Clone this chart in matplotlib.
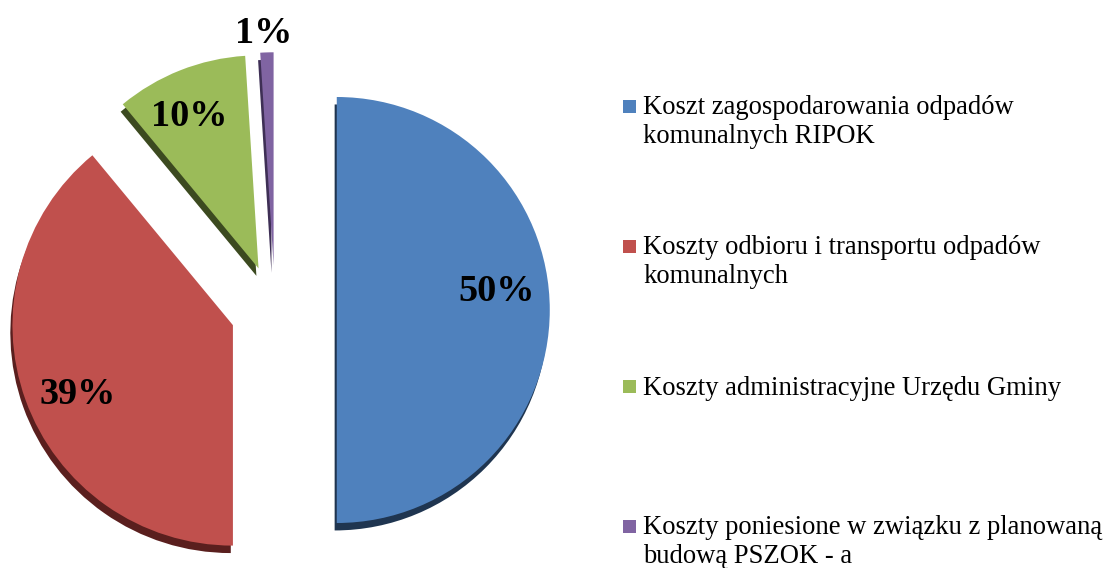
import numpy as np
import matplotlib
matplotlib.use("Agg")
import matplotlib.pyplot as plt
from matplotlib.patches import Rectangle

# dane
labels = ["Koszt zagospodarowania odpadów\nkomunalnych RIPOK",
          "Koszty odbioru i transportu odpadów\nkomunalnych",
          "Koszty administracyjne Urzędu Gminy",
          "Koszty poniesione w związku z planowaną\nbudową PSZOK - a"]
values = [50, 39, 10, 1]
pct_text = ["50%", "39%", "10%", "1%"]

colors = ["#4F81BD", "#C0504D", "#9BBB59", "#8064A2"]
dark = ["#1F3550", "#5A1F1E", "#3C4A20", "#3E2F55"]
explode = [0.29, 0.21, 0.21, 0.21]
radii = [1.0, 1.035, 1.0, 1.0]
# polozenie etykiet procentowych (promien, przesuniecie kata)
lab_r = [0.76, 0.79, 0.80, 1.11]
lab_da = [8, 3, 2.5, 0.5]

W, H = 1105, 568
R = 213.0          # promien kola w pikselach
cx, cy = 275, 310  # srodek kola (piksele od gory)

fig = plt.figure(figsize=(W / 100, H / 100), dpi=100)
ax = fig.add_axes([0, 0, 600 / W, 1])

# "boki" 3D - ciemniejsza kopia przesunieta w dol
shadow, _ = ax.pie(values, colors=dark, startangle=90, counterclock=False,
                   explode=explode, radius=1, center=(-0.01, -0.035),
                   wedgeprops=dict(linewidth=0))
wedges, _ = ax.pie(values, colors=colors, startangle=90, counterclock=False,
                   explode=explode, radius=1, center=(0, 0),
                   wedgeprops=dict(linewidth=0))
for s, w, r in zip(shadow, wedges, radii):
    s.set_radius(r)
    w.set_radius(r)

for w, t, r, da in zip(wedges, pct_text, lab_r, lab_da):
    ang = np.deg2rad((w.theta1 + w.theta2) / 2 + da)
    x0, y0 = w.center
    ax.text(x0 + r * np.cos(ang), y0 + r * np.sin(ang), t,
            ha="center", va="center_baseline", fontsize=27.5, fontweight="bold",
            family="Liberation Serif", color="black")

ax.set_aspect("auto")
ax.set_xlim(-cx / R, (600 - cx) / R)
ax.set_ylim(-(H - cy) / R, cy / R)
ax.axis("off")

# legenda
lg = fig.add_axes([0, 0, 1, 1])
lg.set_xlim(0, W)
lg.set_ylim(H, 0)
lg.axis("off")
for i, (lab, c) in enumerate(zip(labels, colors)):
    base = 115 + 140 * i
    nl = lab.count("\n")
    lg.add_patch(Rectangle((623, base - 15), 13, 13, color=c, lw=0))
    lg.text(643, base + 28 * nl, lab, va="baseline", ha="left", fontsize=19.2,
            family="Liberation Serif", linespacing=1.2)

fig.savefig("out.png", dpi=100)
